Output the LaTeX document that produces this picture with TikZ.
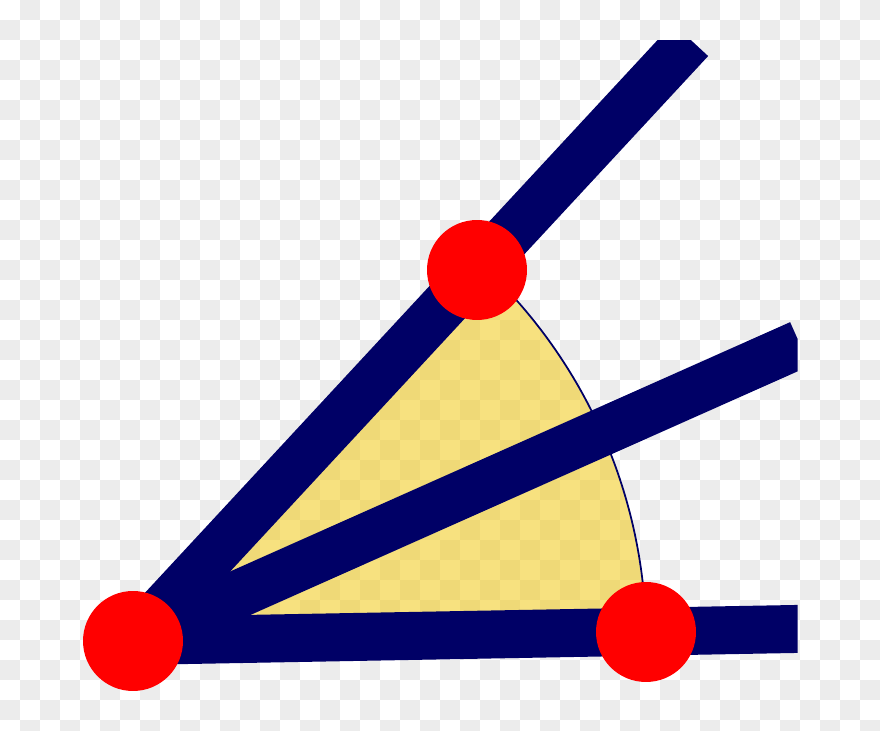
\documentclass[tikz,border=0pt]{standalone}
\usetikzlibrary{calc}
\definecolor{navy}{RGB}{0,0,102}
\definecolor{checkgray}{RGB}{236,236,236}
\definecolor{sectoryellow}{RGB}{242,205,42}
\begin{document}
\begin{tikzpicture}[x=0.02cm,y=0.02cm,
    rayline/.style={navy,line width=0.96cm},
    reddot/.style={circle,fill=red,minimum size=2cm,inner sep=0pt}]
        \useasboundingbox (0,0) rectangle (880,731);
        % checkered backdrop
        \fill[white] (0,0) rectangle (880,731);
        \begin{scope}
            \clip (0,0) rectangle (880,731);
            \foreach \i in {0,...,43}
                \foreach \j in {0,...,36}
                    {\ifodd\numexpr\i+\j\relax
                        \fill[checkgray] (20*\i,711-20*\j) rectangle ++(20,20);
                    \fi}
        \end{scope}
        \coordinate (A) at (133,90);
        \coordinate (B) at (477,461);
        \coordinate (C) at (646,99);
        % shaded sector
        \draw[navy,line width=1pt,fill=sectoryellow,fill opacity=0.6] (A) -- (C) arc[start angle=1.005,end angle=47.16,radius=513] -- cycle;
        % rays, cut at the frame
        \begin{scope}
            \clip (0,0) rectangle (797.5,690);
            \coordinate (topend) at ($(A)+(47.16:820)$);
            \coordinate (midend) at ($(A)+(24:730)$);
            \coordinate (lowend) at ($(A)+(1.04:700)$);
            \draw[rayline] (A) -- (topend);
            \draw[rayline] (A) -- (midend);
            \draw[rayline] (A) -- (lowend);
        \end{scope}
        \node[reddot] (dotA) at (A) {};
        \node[reddot] (dotB) at (B) {};
        \node[reddot] (dotC) at (C) {};
    \end{tikzpicture}
\end{document}
